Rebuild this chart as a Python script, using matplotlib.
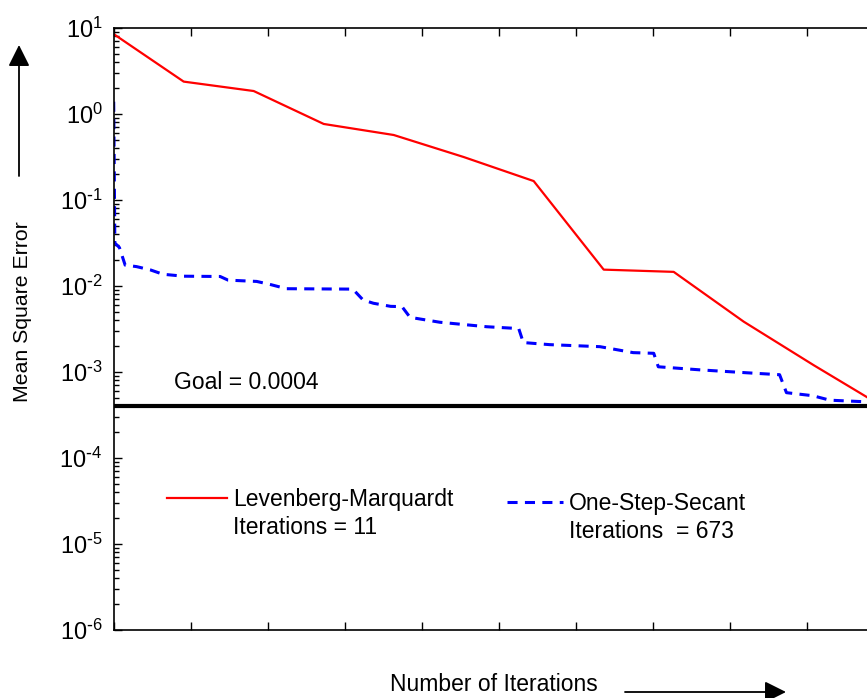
import matplotlib
matplotlib.use("Agg")
import matplotlib.pyplot as plt
from matplotlib.lines import Line2D
from matplotlib.ticker import FuncFormatter
import numpy as np

plt.rcParams['font.family'] = ['Liberation Sans', 'DejaVu Sans']
plt.rcParams['mathtext.default'] = 'regular'
plt.rcParams['axes.unicode_minus'] = False

# Levenberg-Marquardt: one point per epoch
lm_epochs = np.arange(12)
lm_mse = [8.5, 2.38, 1.85, 0.766, 0.57, 0.316, 0.166, 0.0155, 0.0146,
          0.00385, 0.0012, 0.00039]

# One-Step-Secant: sampled along its 673 iterations
oss_iters = [0, 1, 5, 10, 20, 32, 43, 61, 93, 100, 125, 137, 151, 209, 218,
             227, 242, 252, 259, 285, 326, 354, 358, 381, 425, 454, 472, 476,
             512, 553, 582, 588, 611, 626, 658, 673]
oss_mse = [1.39, 0.0316, 0.028, 0.0175, 0.0168, 0.0154, 0.0137, 0.013, 0.0129,
           0.0117, 0.0113, 0.0104, 0.0093, 0.0092, 0.00687, 0.0063, 0.0058,
           0.00575, 0.00432, 0.00379, 0.00336, 0.0032, 0.0022, 0.00208,
           0.00197, 0.00168, 0.00165, 0.00115, 0.00106, 0.00098, 0.00093,
           0.000575, 0.00053, 0.00047, 0.00045, 0.000399]

goal = 0.0004
lm_total = 11
oss_total = 673

W, H = 867, 698


def fpx(x, y):
    # pixel position (from top-left) -> figure fraction
    return x / W, 1 - y / H


def decade_label(v, pos):
    e = int(round(np.log10(v)))
    if e < 0:
        return r'$10^{\text{-}%d}$' % -e
    return r'$10^{%d}$' % e


fig = plt.figure(figsize=(W / 100, H / 100), dpi=100)
# the axes runs a little past the right edge of the figure
ax = fig.add_axes([113.7 / W, 68 / H, 770 / W, 602 / H])

lm_line, = ax.plot(np.array(lm_epochs) / lm_total, lm_mse, color='red', lw=1.6)
oss_line, = ax.plot(np.array(oss_iters) / oss_total, oss_mse, color='blue',
                    lw=2.2, linestyle=(0, (3.3, 2.4)))
ax.axhline(goal, color='black', lw=3)
ax.text(0.078, 6.4e-4, 'Goal = 0.0004', fontsize=16.5, va='baseline')

ax.set_yscale('log')
ax.set_ylim(1e-6, 1e1)
ax.yaxis.set_major_formatter(FuncFormatter(decade_label))
ax.set_xlim(0, 1)
ax.set_xticks(np.arange(0, 1.01, 0.1))
ax.tick_params(which='both', direction='in', top=True, right=True, width=1.0,
               labelbottom=False)
ax.tick_params(which='major', length=6)
ax.tick_params(which='minor', length=3.5)
ax.tick_params(axis='y', labelsize=17, pad=8)
for s in ax.spines.values():
    s.set_linewidth(1.2)

blank = Line2D([], [], color='none')
leg1 = ax.legend([lm_line, blank], ['Levenberg-Marquardt', 'Iterations = 11'],
                 loc='upper left', bbox_to_anchor=fpx(167, 488),
                 bbox_transform=fig.transFigure, frameon=False, fontsize=16.5,
                 handlelength=2.62, handletextpad=0.26, labelspacing=0.2,
                 borderpad=0, borderaxespad=0)
ax.add_artist(leg1)
ax.legend([oss_line, blank], ['One-Step-Secant', 'Iterations  = 673'],
          loc='upper left', bbox_to_anchor=fpx(507, 492),
          bbox_transform=fig.transFigure, frameon=False, fontsize=16.5,
          handlelength=2.45, handletextpad=0.26, labelspacing=0.2,
          borderpad=0, borderaxespad=0)

# axis titles with direction arrows
fig.text(*fpx(23, 312), 'Mean Square Error', rotation=90, fontsize=15.3,
         ha='center', va='center')
fig.text(*fpx(493.5, 691), 'Number of Iterations', fontsize=16.5,
         ha='center', va='baseline')
arrow = dict(arrowstyle='-|>,head_length=1.3,head_width=0.65',
             mutation_scale=10, lw=1.3, color='black', shrinkA=0, shrinkB=0)
fig.add_artist(plt.Annotation('', xy=fpx(19, 45), xytext=fpx(19, 176),
                              xycoords='figure fraction',
                              textcoords='figure fraction', arrowprops=arrow))
fig.add_artist(plt.Annotation('', xy=fpx(786, 692), xytext=fpx(625, 692),
                              xycoords='figure fraction',
                              textcoords='figure fraction', arrowprops=arrow))

fig.savefig('out.png', dpi=100)
